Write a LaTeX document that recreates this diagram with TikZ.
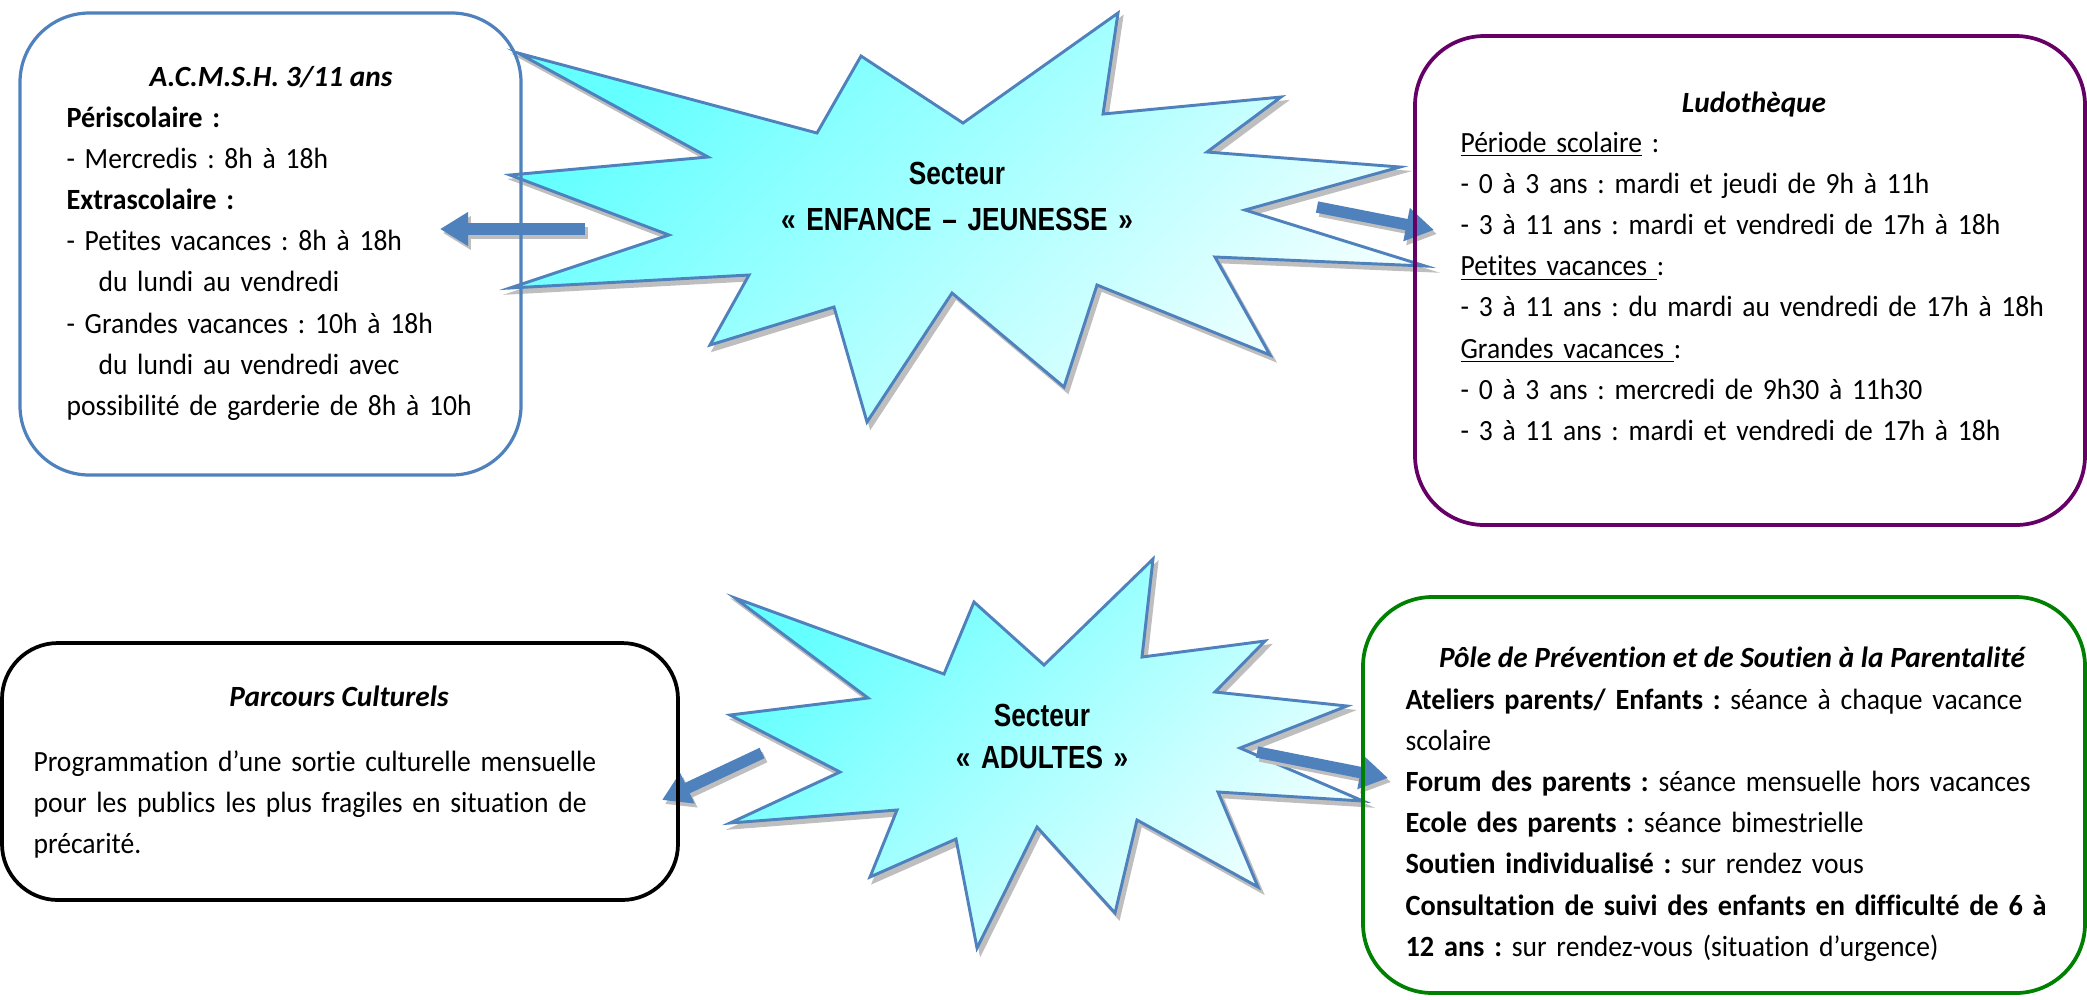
\documentclass[tikz,border=0pt]{standalone}
\usepackage{fontspec}
\setmainfont{Carlito}[Ligatures=NoCommon,
  UprightFeatures={FakeStretch=0.94, WordSpace=0.85},
  BoldFeatures={FakeStretch=0.965}]
\newfontfamily\narrowfont[FakeStretch=0.82]{Liberation Sans}
\frenchspacing
\usetikzlibrary{arrows.meta}
\definecolor{bline}{RGB}{79,129,189}
\definecolor{purp}{RGB}{102,0,102}
\definecolor{grn}{RGB}{0,128,0}
\definecolor{cyanA}{RGB}{100,255,255}
\definecolor{cyanB}{RGB}{242,255,255}
\definecolor{shadowgray}{RGB}{190,190,190}
\tikzset{
  frame/.style={draw=#1, line width=1.4pt, rounded corners=26pt, inner sep=0pt, fill=none},
  bodytext/.style={anchor=base west, inner sep=0pt, align=left, text width=#1,
    font=\frenchspacing\fontsize{11}{15.45}\selectfont},
  titletext/.style={anchor=base, inner sep=0pt, font=\fontsize{11}{15.45}\selectfont\bfseries\itshape},
  bursttext/.style={anchor=base, inner sep=0pt, text width=200pt, align=center,
    font=\narrowfont\bfseries\fontsize{12}{#1}\selectfont},
  burst/.style={draw=bline, line width=1.1pt, line join=miter, miter limit=20,
    top color=cyanA, bottom color=cyanB, shading angle=45},
  burstshadow/.style={fill=shadowgray, draw=shadowgray, line width=1.1pt, line join=miter, miter limit=20,
    transform canvas={xshift=1.4pt,yshift=-1.8pt}},
  bigarrow/.style={draw=bline, line width=4.3pt, -{Triangle[length=10.5pt,width=12pt,fill=bline]}},
  arrowshadow/.style={draw=shadowgray, line width=4.3pt, -{Triangle[length=10.5pt,width=12pt,fill=shadowgray]},
    transform canvas={xshift=1.1pt,yshift=-1.5pt}},
  burstA/.style={insert path={(518,53) -- (817,133) -- (861,56) -- (963,123) -- (1118,13) -- (1103,114)
    -- (1281,97) -- (1207,152) -- (1400,167) -- (1245,210) -- (1425,266) -- (1215,257) -- (1270,355)
    -- (1097,285) -- (1064,387) -- (952,293) -- (867,422) -- (834,307) -- (710,345) -- (749,275)
    -- (510,288) -- (669,235) -- (510,175) -- (708,157) -- cycle}},
  burstB/.style={insert path={(735,598) -- (944,674) -- (974,602) -- (1044,665) -- (1153,559) -- (1142,657)
    -- (1265,641) -- (1215,692) -- (1347,706) -- (1240,748) -- (1363,801) -- (1218,792) -- (1258,887)
    -- (1137,820) -- (1115,913) -- (1037,827) -- (977,948) -- (956,839) -- (870,877) -- (897,810)
    -- (730,823) -- (840,772) -- (730,715) -- (868,698) -- cycle}}
}
\begin{document}
\begin{tikzpicture}[x=0.375pt,y=-0.375pt]
\useasboundingbox (0,0) rectangle (2087,999);

% starbursts
\path[burstshadow, burstA];
\path[burst, burstA];
\path[burstshadow, burstB];
\path[burst, burstB];

\node[bursttext=17.6pt] (s1) at (957,184) {Secteur\\« ENFANCE – JEUNESSE »};
\node[bursttext=16.1pt] (s2) at (1042,726) {Secteur\\« ADULTES »};

% arrow end points
\coordinate (a1s) at (585,229);
\coordinate (a1e) at (440,229);
\coordinate (a2s) at (1317,207);
\coordinate (a2e) at (1434,230);
\coordinate (a3s) at (762,753);
\coordinate (a3e) at (662,800);
\coordinate (a4s) at (1257,752);
\coordinate (a4e) at (1388,778);

\draw[arrowshadow] (a1s) -- (a1e);
\draw[arrowshadow] (a2s) -- (a2e);
\draw[arrowshadow] (a3s) -- (a3e);
\draw[arrowshadow] (a4s) -- (a4e);
\draw[bigarrow] (a1s) -- (a1e);
\draw[bigarrow] (a2s) -- (a2e);
\draw[bigarrow] (a3s) -- (a3e);
\draw[bigarrow] (a4s) -- (a4e);

% boxes
\node[frame=bline, line width=1.2pt, minimum width=501*0.375pt, minimum height=462*0.375pt] (acm) at (270.5,244) {};
\node[frame=purp, minimum width=670*0.375pt, minimum height=489*0.375pt] (ludo) at (1750,280.5) {};
\node[frame=black, rounded corners=21pt, minimum width=676*0.375pt, minimum height=257*0.375pt] (parc) at (340,771.5) {};
\node[frame=grn, minimum width=722*0.375pt, minimum height=396*0.375pt] (pole) at (1724,795) {};

% texts
\node[titletext] (acmT) at (271,86) {A.C.M.S.H. 3/11 ans};
\node[bodytext=175pt] (acmB) at (66,127) {\textbf{Périscolaire :}\\
- Mercredis : 8h à 18h\\
\textbf{Extrascolaire :}\\
- Petites vacances : 8h à 18h\\
\hspace*{12pt}du lundi au vendredi\\
- Grandes vacances : 10h à 18h\\
\hspace*{12pt}du lundi au vendredi avec\\
possibilité de garderie de 8h à 10h};

\node[titletext] (ludoT) at (1754,112) {Ludothèque};
\node[bodytext=235pt] (ludoB) at (1460,152) {\underline{Période scolaire} :\\
- 0 à 3 ans : mardi et jeudi de 9h à 11h\\
- 3 à 11 ans : mardi et vendredi de 17h à 18h\\
\underline{Petites vacances }:\\
- 3 à 11 ans : du mardi au vendredi de 17h à 18h\\
\underline{Grandes vacances }:\\
- 0 à 3 ans : mercredi de 9h30 à 11h30\\
- 3 à 11 ans : mardi et vendredi de 17h à 18h};

\node[titletext] (parcT) at (339,706) {Parcours Culturels};
\node[bodytext=230pt] (parcB) at (33,771) {\makebox[229.5pt][s]{Programmation d’une sortie culturelle mensuelle}\\
\makebox[229.5pt][s]{pour les publics les plus fragiles en situation de}\\
précarité.};

\node[titletext] (poleT) at (1732,667) {Pôle de Prévention et de Soutien à la Parentalité};
\node[bodytext=255pt] (poleB) at (1405,709) {\textbf{Ateliers parents/ Enfants :} séance à chaque vacance\\
scolaire\\
\textbf{Forum des parents :} séance mensuelle hors vacances\\
\textbf{Ecole des parents :} séance bimestrielle\\
\textbf{Soutien individualisé :} sur rendez vous\\
\textbf{Consultation de suivi des enfants en difficulté de 6 à}\\
\textbf{12 ans :} sur rendez-vous (situation d’urgence)};
\end{tikzpicture}
\end{document}
